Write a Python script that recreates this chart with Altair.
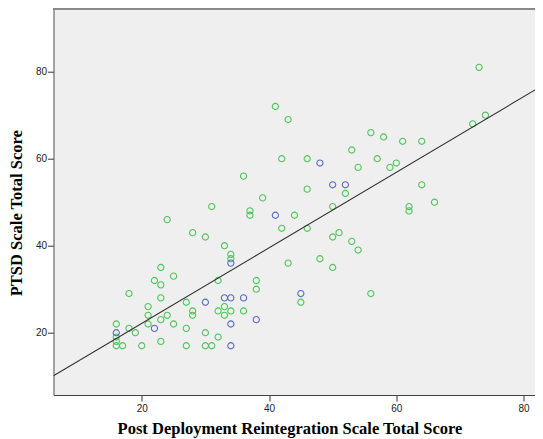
import altair as alt
import pandas as pd

# Green group (x = Post Deployment Reintegration, y = PTSD)
green_x = [73, 41, 43, 74, 72, 56, 58, 61, 64, 53, 42, 46, 57, 60, 54, 59, 36, 64, 46, 52,
           39, 66, 31, 50, 62, 62, 37, 37, 44, 24, 42, 46, 28, 51, 30, 50, 53, 33, 54, 34,
           34, 48, 43, 50, 23, 25, 22, 32, 38, 23, 38, 18, 56, 23, 27, 45, 21, 33, 28, 32,
           34, 36, 21, 24, 28, 33, 23, 16, 21, 25, 18, 27, 19, 30, 16, 32, 23, 16, 16, 17,
           20, 27, 30, 31]
green_y = [81, 72, 69, 70, 68, 66, 65, 64, 64, 62, 60, 60, 60, 59, 58, 58, 56, 54, 53, 52,
           51, 50, 49, 49, 49, 48, 48, 47, 47, 46, 44, 44, 43, 43, 42, 42, 41, 40, 39, 38,
           37, 37, 36, 35, 35, 33, 32, 32, 32, 31, 30, 29, 29, 28, 27, 27, 26, 26, 25, 25,
           25, 25, 24, 24, 24, 24, 23, 22, 22, 22, 21, 21, 20, 20, 19, 19, 18, 18, 17, 17,
           17, 17, 17, 17]

# Blue group
blue_x = [48, 50, 52, 41, 34, 45, 33, 34, 36, 30, 38, 34, 22, 16, 34]
blue_y = [59, 54, 54, 47, 36, 29, 28, 28, 28, 27, 23, 22, 21, 20, 17]

groups = ["Green", "Blue"]
colors = ["#4fc35a", "#5a68c6"]

x_domain = [6.14, 81.79]
y_domain = [5.68, 94.48]
ticks = [20, 40, 60, 80]

W = 481.5
H = 386.3

df = pd.DataFrame({
    "x": green_x + blue_x,
    "y": green_y + blue_y,
    "group": ["Green"] * len(green_x) + ["Blue"] * len(blue_x),
})

x_scale = alt.Scale(domain=x_domain, nice=False, zero=False)
y_scale = alt.Scale(domain=y_domain, nice=False, zero=False)

x_axis = alt.Axis(
    values=ticks, grid=False, title="Post Deployment Reintegration Scale Total Score",
    labelFont="Liberation Sans", labelFontSize=10, labelColor="#222", labelPadding=2,
    tickSize=6, tickColor="#333", domainColor="#444",
    titleFont="Liberation Serif", titleFontSize=16.5, titleFontWeight="bold", titleColor="#000",
    titleX=236, titleY=38, titleBaseline="alphabetic", titleAlign="center",
)
y_axis = alt.Axis(
    values=ticks, grid=False, title="PTSD Scale Total Score",
    labelFont="Liberation Sans", labelFontSize=10, labelColor="#222", labelPadding=1,
    tickSize=6, tickColor="#333", domainColor="#555",
    titleFont="Liberation Serif", titleFontSize=16.5, titleFontWeight="bold", titleColor="#000",
    titleX=-32, titleY=204, titleAngle=270, titleBaseline="alphabetic", titleAlign="center",
)

points = alt.Chart(df).mark_point(shape="circle", filled=False, size=38, strokeWidth=1.1, opacity=1).encode(
    x=alt.X("x:Q", scale=x_scale, axis=x_axis),
    y=alt.Y("y:Q", scale=y_scale, axis=y_axis),
    color=alt.Color("group:N", scale=alt.Scale(domain=groups, range=colors), legend=None),
)

fit = alt.Chart(df).transform_regression("x", "y", extent=x_domain).mark_line(
    color="#333", strokeWidth=1.1, clip=True
).encode(
    x=alt.X("x:Q", scale=x_scale),
    y=alt.Y("y:Q", scale=y_scale),
)

top_border = alt.Chart(df).mark_rule(color="#888", strokeWidth=1).encode(
    x=alt.value(0), x2=alt.value(W), y=alt.value(0)
)

chart = alt.layer(points, fit, top_border).properties(
    width=W, height=H,
    autosize=alt.AutoSizeParams(type="none"),
    padding={"left": 45.5, "top": 0.7, "right": 0, "bottom": 44},
    background="#ffffff",
).configure_view(
    fill="#efefef", stroke=None
)

chart.save("out.html", embed_options={"renderer": "svg", "actions": False})
